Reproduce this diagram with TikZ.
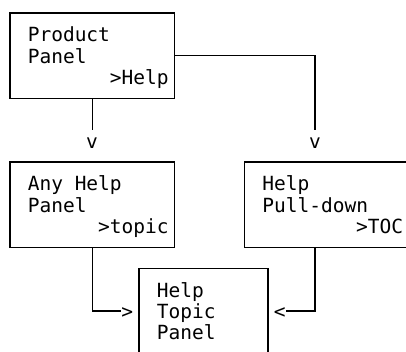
\documentclass[tikz,border=0pt]{standalone}
\usepackage{fontspec}
\setmonofont{DejaVu Sans Mono}
\begin{document}
\begin{tikzpicture}[x=1pt,y=-1pt,
  box/.style={draw=black, line width=1.2pt, inner sep=0pt, minimum width=164.22pt, minimum height=85.16pt},
  txt/.style={font=\ttfamily\fontsize{19.5}{21.29}\selectfont, inner sep=0pt, text height=18.145pt, text depth=3.145pt, anchor=west},
  glyph/.style={txt, anchor=center},
  wire/.style={draw=black, line width=1.2pt}]
\useasboundingbox (0,0) rectangle (406,352);
\clip (0,0) rectangle (406,352);
% boxes
\node[box] (pp) at (92.11,55.58) {};
\node[box] (ah) at (92.11,204.61) {};
\node[box] (pd) at (326.71,204.61) {};
\node[box, minimum width=129.03pt] (tp) at (203.55,311.06) {};
% texts
\node[txt] (pp1) at (27.6,34.29) {Product};
\node[txt] (pp2) at (27.6,55.58) {Panel};
\node[txt] (pp3) at (109.7,76.87) {>Help};
\node[txt] (ah1) at (27.6,183.32) {Any Help};
\node[txt] (ah2) at (27.6,204.61) {Panel};
\node[txt] (ah3) at (97.97,225.9) {>topic};
\node[txt] (pd1) at (262.2,183.32) {Help};
\node[txt] (pd2) at (262.2,204.61) {Pull-down};
\node[txt] (pd3) at (356.04,225.9) {>TOC};
\node[txt] (tp1) at (156.6,289.77) {Help};
\node[txt] (tp2) at (156.6,311.06) {Topic};
\node[txt] (tp3) at (156.6,332.35) {Panel};
% arrow glyphs
\node[glyph] (v1) at (92.11,140.74) {v};
\node[glyph] (v2) at (314.98,140.74) {v};
\node[glyph] (gt) at (127.3,311.06) {>};
\node[glyph] (lt) at (279.79,311.06) {<};
% connectors
\draw[wire] (pp.south) -- (v1.north);
\draw[wire] (pp.east) -| (v2.north);
\draw[wire] (ah.south) |- (gt.west);
\draw[wire] (v2 |- pd.south) |- (lt.east);
\end{tikzpicture}
\end{document}
